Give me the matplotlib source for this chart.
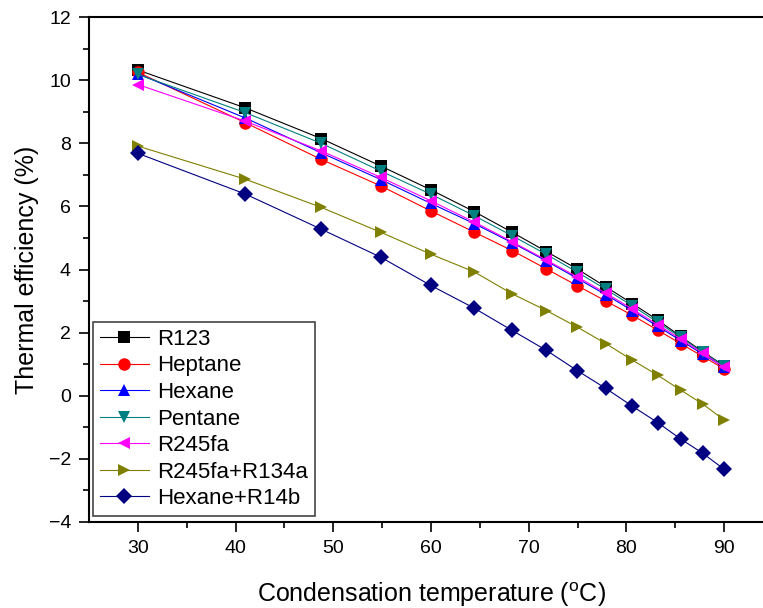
import matplotlib
matplotlib.use("Agg")
import matplotlib.pyplot as plt
from matplotlib import font_manager

names = {f.name for f in font_manager.fontManager.ttflist}
fam = "Liberation Sans Narrow" if "Liberation Sans Narrow" in names else "Liberation Sans"
plt.rcParams['font.family'] = [fam, 'DejaVu Sans']
plt.rcParams['mathtext.fontset'] = 'custom'
plt.rcParams['mathtext.rm'] = fam

temps = [30, 41, 48.75, 54.85, 59.95, 64.45, 68.3, 71.8, 74.95, 77.9, 80.6, 83.2, 85.55, 87.8, 90]

r123 = [10.32, 9.12, 8.15, 7.28, 6.53, 5.83, 5.18, 4.57, 4.02, 3.45, 2.92, 2.40, 1.88, 1.40, 0.95]
heptane = [10.25, 8.65, 7.49, 6.65, 5.86, 5.18, 4.60, 4.02, 3.49, 3.00, 2.55, 2.08, 1.65, 1.25, 0.85]
hexane = [10.20, 8.80, 7.70, 6.85, 6.10, 5.45, 4.85, 4.27, 3.72, 3.20, 2.70, 2.20, 1.75, 1.32, 0.90]
pentane = [10.18, 8.97, 8.00, 7.12, 6.39, 5.70, 5.07, 4.48, 3.92, 3.37, 2.85, 2.33, 1.85, 1.38, 0.93]
r245fa = [9.86, 8.70, 7.76, 6.92, 6.18, 5.50, 4.88, 4.30, 3.77, 3.25, 2.75, 2.25, 1.80, 1.35, 0.90]
r245fa_r134a = [7.91, 6.86, 5.97, 5.18, 4.49, 3.92, 3.23, 2.70, 2.18, 1.65, 1.13, 0.65, 0.18, -0.26, -0.77]
hexane_r14b = [7.68, 6.39, 5.28, 4.39, 3.50, 2.77, 2.07, 1.44, 0.80, 0.23, -0.33, -0.85, -1.37, -1.82, -2.33]

labels = ["R123", "Heptane", "Hexane", "Pentane", "R245fa", "R245fa+R134a", "Hexane+R14b"]
series = [r123, heptane, hexane, pentane, r245fa, r245fa_r134a, hexane_r14b]
colors = ["#000000", "#FF0000", "#0000FF", "#008080", "#FF00FF", "#808000", "#000080"]
markers = ["s", "o", "^", "v", "<", ">", "D"]
msizes = [8, 9, 9, 9, 9, 9, 8]

xticks = [30, 40, 50, 60, 70, 80, 90]
yticks = [-4, -2, 0, 2, 4, 6, 8, 10, 12]

W, H = 763, 608
fig = plt.figure(figsize=(W / 100, H / 100), dpi=100)
ax = fig.add_axes([89 / W, 86 / H, 684 / W, 505 / H])

for lab, ys, c, m, ms in zip(labels, series, colors, markers, msizes):
    ax.plot(temps, ys, color=c, marker=m, markersize=ms, linewidth=0.8,
            markeredgewidth=0, label=lab)

ax.set_xlim(25, 95)
ax.set_ylim(-4, 12)
ax.set_xticks(xticks)
ax.set_yticks(yticks)
ax.set_xticks([35, 45, 55, 65, 75, 85], minor=True)
ax.set_yticks([-3, -1, 1, 3, 5, 7, 9, 11], minor=True)
ax.tick_params(axis='both', which='major', direction='out', length=7, width=1.2,
               labelsize=14, top=False, right=False, pad=6)
ax.tick_params(axis='both', which='minor', direction='out', length=4, width=1.2,
               top=False, right=False)
for s in ax.spines.values():
    s.set_linewidth(1.5)

ax.set_xlabel("Condensation temperature ($^{\\mathrm{o}}$C)", fontsize=18, labelpad=17)
ax.set_ylabel("Thermal efficiency (%)", fontsize=18, labelpad=7)

leg = ax.legend(loc='lower left', bbox_to_anchor=(0.006, 0.012), fontsize=16,
                frameon=True, fancybox=False, edgecolor='#444444', framealpha=1,
                handlelength=2.2, handletextpad=0.4, labelspacing=0.25,
                borderpad=0.3, borderaxespad=0)
leg.get_frame().set_linewidth(1.2)

fig.savefig("out.png", dpi=100)
